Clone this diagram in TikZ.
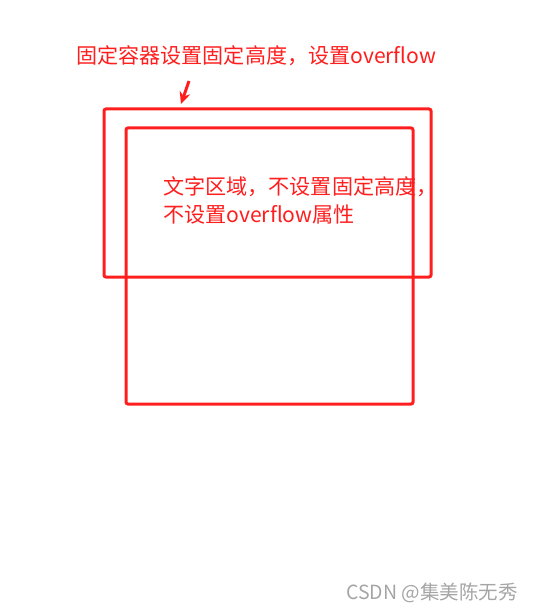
\documentclass[tikz,border=0pt]{standalone}
\usepackage{fontspec}
\usetikzlibrary{arrows.meta}
\newfontfamily\cjk{Noto Sans CJK SC}
\definecolor{markred}{RGB}{255,30,30}
\definecolor{markgray}{RGB}{165,165,165}
\tikzset{
  boxframe/.style={draw=markred, line width=3pt, rounded corners=2pt, inner sep=0pt},
  note/.style={text=markred, font=\cjk\fontsize{21.1}{28}\selectfont, inner sep=0pt, anchor=west, align=left}
}

\begin{document}
\begin{tikzpicture}[x=1pt, y=-1pt]
  \useasboundingbox (0,0) rectangle (532,612);
  % the two frames
  \node[boxframe, minimum width=327pt, minimum height=168pt] (outer) at (267.5,193) {};
  \node[boxframe, minimum width=287pt, minimum height=276pt] (inner) at (269.5,266) {};
  % labels
  \node[note] (outerlabel) at (76,56) {固定容器设置固定高度，设置overflow};
  \node[note] (innerlabel) at (163,200) {文字区域，不设置固定高度，\\不设置overflow属性};
  \node[text=markgray, font=\cjk\fontsize{19.5}{22}\selectfont, inner sep=0pt, anchor=east] (mark) at (518,593) {CSDN @集美陈无秀};
  % pointer to the outer frame
  \coordinate (tail) at (189,81);
  \coordinate (tip) at (181,104);
  \draw[markred, line width=3pt, -{Stealth[length=12pt, width=11pt]}] (tail) -- (tip);
\end{tikzpicture}
\end{document}
